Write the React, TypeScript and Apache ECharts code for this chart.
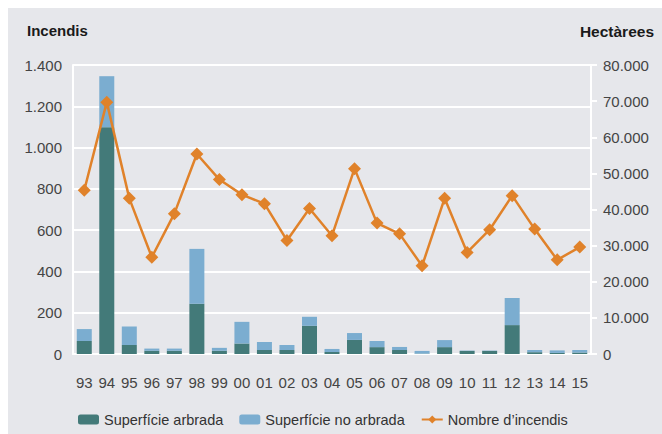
import React, { useEffect, useRef } from "react";
import * as echarts from "echarts";

const years = ["93","94","95","96","97","98","99","00","01","02","03","04","05","06","07","08","09","10","11","12","13","14","15"];
const incendis = [793, 1220, 754, 469, 680, 969, 845, 772, 728, 550, 705, 573, 898, 634, 582, 427, 754, 492, 602, 767, 605, 456, 518];
const arbrada = [3600, 62800, 2500, 900, 900, 13900, 900, 2900, 1100, 1100, 7800, 550, 3900, 1900, 1100, 100, 1900, 850, 850, 8000, 500, 300, 400];
const noArbrada = [3300, 14100, 5100, 600, 600, 15200, 800, 6000, 2200, 1400, 2500, 850, 1900, 1700, 850, 750, 1950, 100, 100, 7500, 600, 700, 700];

const FONT = "Liberation Sans, Arial, Helvetica, sans-serif";
const BG = "#e6e7eb";
const DARK = "#437a79";
const LIGHT = "#7badd0";
const ORANGE = "#e0822a";
const LABEL = "#444444";

const fmt = (v: number) => String(v).replace(/\B(?=(\d{3})+(?!\d))/g, ".");

export default function App() {
  const ref = useRef<HTMLDivElement>(null);
  useEffect(() => {
    if (!ref.current) return;
    const chart = echarts.init(ref.current, undefined, { renderer: "svg" });
    chart.setOption({
      animation: false,
      backgroundColor: BG,
      textStyle: { fontFamily: FONT },
      grid: { left: 65, right: 71, top: 57, bottom: 80 },
      graphic: [
        { type: "text", left: 19, top: 15, style: { text: "Incendis", fontFamily: FONT, fontWeight: "bold", fontSize: 15, fill: "#1a1a1a" } },
        { type: "text", right: 8, top: 15, style: { text: "Hectàrees", fontFamily: FONT, fontWeight: "bold", fontSize: 15.5, fill: "#1a1a1a" } },
      ],
      legend: {
        left: 65,
        top: 399,
        itemWidth: 21,
        itemHeight: 10,
        itemGap: 16,
        textStyle: { fontSize: 14.5, color: "#333", fontFamily: FONT },
        data: ["Superfície arbrada", "Superfície no arbrada", "Nombre d’incendis"],
      },
      xAxis: {
        type: "category",
        data: years,
        axisLine: { lineStyle: { color: "#ffffff", width: 2 } },
        axisTick: { show: false },
        axisLabel: { color: LABEL, fontSize: 15, margin: 21, fontFamily: FONT },
      },
      yAxis: [
        {
          type: "value",
          min: 0,
          max: 1400,
          interval: 200,
          axisLine: { show: true, lineStyle: { color: "#ffffff", width: 2 } },
          axisTick: { show: false },
          splitLine: { lineStyle: { color: "#ffffff", width: 2 } },
          axisLabel: { color: LABEL, fontSize: 15, margin: 11, fontFamily: FONT, formatter: (v: number) => fmt(v) },
        },
        {
          type: "value",
          min: 0,
          max: 80000,
          interval: 10000,
          position: "right",
          axisLine: { show: true, lineStyle: { color: "#ffffff", width: 2 } },
          axisTick: { show: true, length: 6, lineStyle: { color: "#ffffff", width: 2 } },
          splitLine: { show: false },
          axisLabel: { color: LABEL, fontSize: 15, margin: 12, fontFamily: FONT, formatter: (v: number) => fmt(v) },
        },
      ],
      series: [
        {
          name: "Superfície arbrada",
          type: "bar",
          stack: "ha",
          yAxisIndex: 1,
          barWidth: 15,
          itemStyle: { color: DARK },
          data: arbrada,
        },
        {
          name: "Superfície no arbrada",
          type: "bar",
          stack: "ha",
          yAxisIndex: 1,
          barWidth: 15,
          itemStyle: { color: LIGHT },
          data: noArbrada,
        },
        {
          name: "Nombre d’incendis",
          type: "line",
          yAxisIndex: 0,
          symbol: "diamond",
          symbolSize: 13,
          lineStyle: { color: ORANGE, width: 2.5 },
          itemStyle: { color: ORANGE },
          data: incendis,
          z: 5,
        },
      ],
    });
    return () => chart.dispose();
  }, []);
  return (
    <div style={{ position: "fixed", left: 0, top: 0, width: 662, height: 434, background: "#ffffff", overflow: "hidden" }}>
      <div ref={ref} style={{ position: "absolute", left: 8, top: 8, width: 654, height: 426 }} />
    </div>
  );
}
